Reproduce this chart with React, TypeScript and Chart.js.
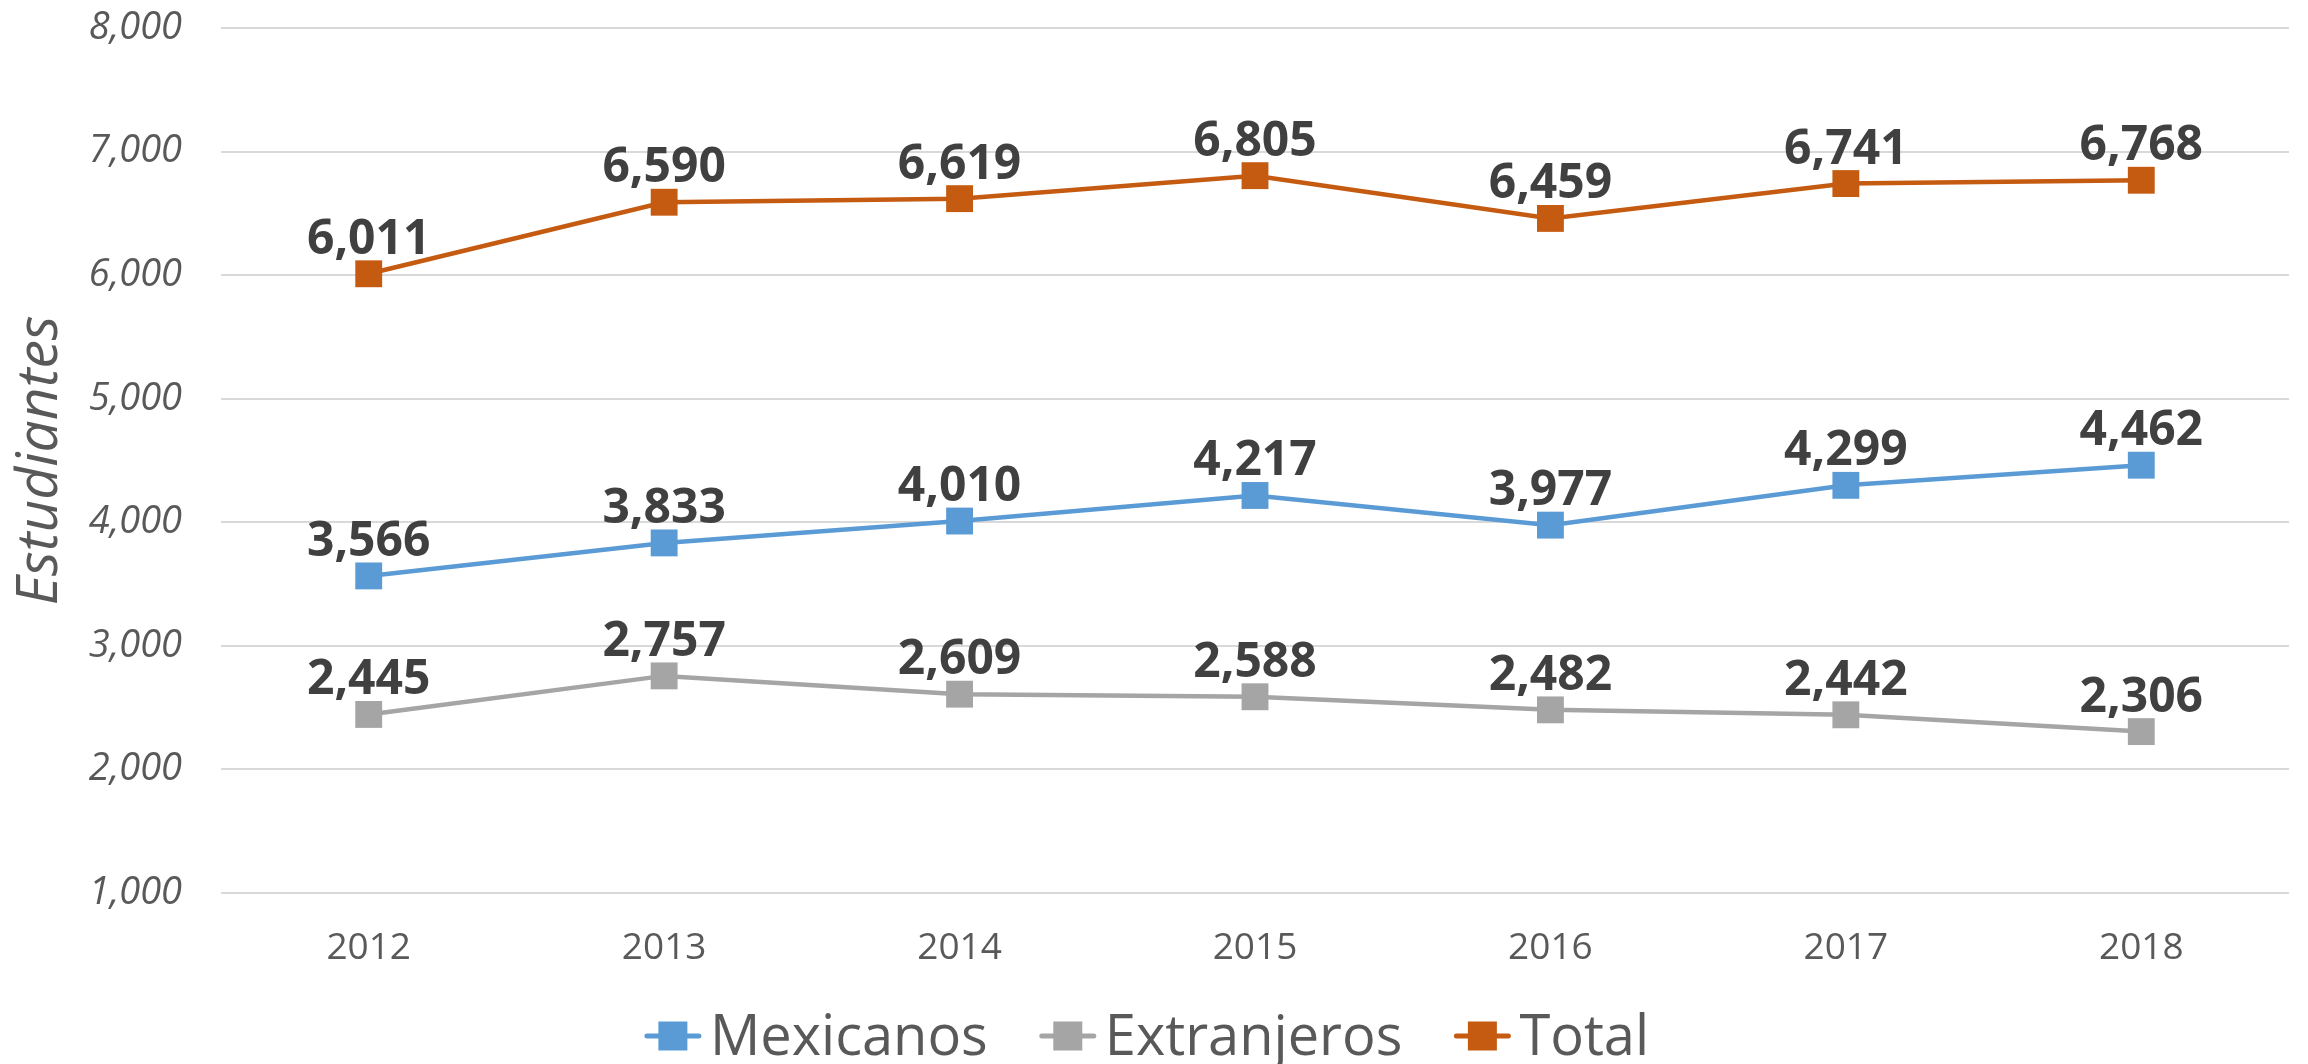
import React, { useEffect, useRef } from "react";
import { Chart, registerables } from "chart.js";

Chart.register(...registerables);

const years = ["2012", "2013", "2014", "2015", "2016", "2017", "2018"];
const mexicanos = [3566, 3833, 4010, 4217, 3977, 4299, 4462];
const extranjeros = [2445, 2757, 2609, 2588, 2482, 2442, 2306];
const total = [6011, 6590, 6619, 6805, 6459, 6741, 6768];
const seriesNames = ["Mexicanos", "Extranjeros", "Total"];
const seriesColors = ["#5B9BD5", "#A5A5A5", "#C55A11"];
const yMin = 1000;
const yMax = 8000;
const yStep = 1000;
const yTitle = "Estudiantes";

const FONT = "'Open Sans', 'Noto Sans', sans-serif";
const fmt = (v: number) => v.toLocaleString("en-US");

const dataLabelPlugin = {
  id: "dataLabels",
  afterDatasetsDraw(chart: any) {
    const ctx = chart.ctx;
    ctx.save();
    ctx.font = `bold 48px ${FONT}`;
    ctx.fillStyle = "#404040";
    ctx.textAlign = "center";
    ctx.textBaseline = "alphabetic";
    chart.data.datasets.forEach((ds: any, i: number) => {
      const meta = chart.getDatasetMeta(i);
      meta.data.forEach((pt: any, j: number) => {
        ctx.fillText(fmt(ds.data[j]), pt.x, pt.y - 20);
      });
    });
    ctx.restore();
  },
};

const legendPlugin = {
  id: "customLegend",
  afterDraw(chart: any) {
    const ctx = chart.ctx;
    ctx.save();
    ctx.font = `56px ${FONT}`;
    const glyphW = 56;
    const gap = 9;
    const itemGap = 52;
    const sq = 29;
    const widths = seriesNames.map((n) => ctx.measureText(n).width);
    const totalW =
      widths.reduce((a, b) => a + b, 0) +
      seriesNames.length * (glyphW + gap) +
      (seriesNames.length - 1) * itemGap;
    let x = chart.width / 2 - 7 - totalW / 2;
    const cy = 1036;
    seriesNames.forEach((name, i) => {
      const c = seriesColors[i];
      ctx.strokeStyle = c;
      ctx.lineWidth = 5;
      ctx.lineCap = "round";
      ctx.beginPath();
      ctx.moveTo(x + 2, cy);
      ctx.lineTo(x + glyphW - 2, cy);
      ctx.stroke();
      ctx.fillStyle = c;
      ctx.fillRect(x + glyphW / 2 - sq / 2, cy - sq / 2, sq, sq);
      ctx.fillStyle = "#595959";
      ctx.textAlign = "left";
      ctx.textBaseline = "alphabetic";
      ctx.fillText(name, x + glyphW + gap, 1055);
      x += glyphW + gap + widths[i] + itemGap;
    });
    ctx.restore();
  },
};

export default function App() {
  const ref = useRef<HTMLCanvasElement | null>(null);

  useEffect(() => {
    if (!ref.current) return;
    const series = [mexicanos, extranjeros, total];
    const chart = new Chart(ref.current, {
      type: "line",
      data: {
        labels: years,
        datasets: series.map((d, i) => ({
          label: seriesNames[i],
          data: d,
          borderColor: seriesColors[i],
          backgroundColor: seriesColors[i],
          pointBackgroundColor: seriesColors[i],
          borderWidth: 4.5,
          pointStyle: "rect",
          pointRadius: 19,
          pointHoverRadius: 19,
          pointBorderWidth: 0,
          tension: 0,
          fill: false,
        })),
      },
      options: {
        responsive: false,
        animation: false,
        events: [],
        layout: { padding: { top: 28, right: 11, bottom: 91, left: 0 } },
        plugins: {
          legend: { display: false },
          tooltip: { enabled: false },
          title: { display: false },
        },
        scales: {
          x: {
            offset: true,
            grid: { display: false, drawTicks: false },
            border: { display: false },
            ticks: {
              color: "#595959",
              font: { family: FONT, size: 37 },
              padding: 33,
            },
            afterFit(scale: any) {
              scale.height = 80;
            },
          },
          y: {
            min: yMin,
            max: yMax,
            grid: { color: "#D9D9D9", lineWidth: 2, drawTicks: false },
            border: { display: false },
            ticks: {
              stepSize: yStep,
              color: "#595959",
              font: { family: FONT, size: 38, style: "italic" },
              padding: 39,
              callback: (v: any) => fmt(Number(v)),
            },
            title: {
              display: true,
              text: yTitle,
              color: "#595959",
              font: { family: FONT, size: 57, style: "italic" },
              padding: { top: 7, bottom: 0 },
            },
            afterFit(scale: any) {
              scale.width = 221;
              scale.paddingTop = 0;
              scale.paddingBottom = 0;
            },
          },
        },
      },
      plugins: [dataLabelPlugin, legendPlugin],
    });
    return () => chart.destroy();
  }, []);

  return (
    <div style={{ position: "absolute", left: 0, top: 0, width: 2308, height: 1064, background: "#fff" }}>
      <canvas ref={ref} width={2308} height={1064} style={{ display: "block" }} />
    </div>
  );
}
